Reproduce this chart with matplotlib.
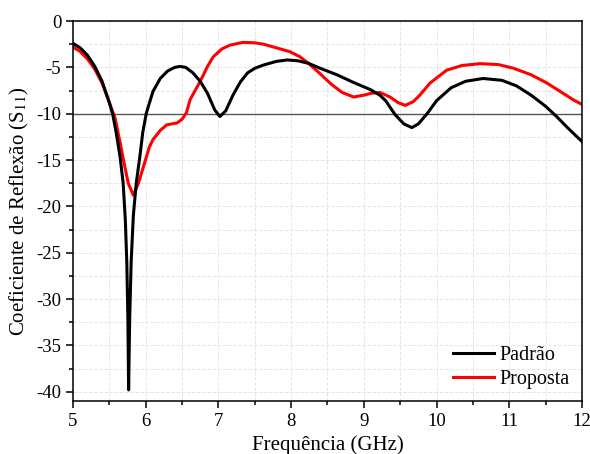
import matplotlib
matplotlib.use("Agg")
import matplotlib.pyplot as plt
from matplotlib.ticker import MultipleLocator

# Padrão (black) curve
freq_padrao = [5.0, 5.1, 5.2, 5.3, 5.4, 5.5, 5.55, 5.6, 5.65, 5.69, 5.72, 5.74,
               5.755, 5.765, 5.78, 5.8, 5.83, 5.87, 5.92, 5.96, 6.01, 6.1, 6.2,
               6.3, 6.4, 6.47, 6.55, 6.65, 6.75, 6.85, 6.95, 7.02, 7.1, 7.2, 7.3,
               7.4, 7.5, 7.62, 7.8, 7.95, 8.1, 8.24, 8.4, 8.63, 8.85, 9.09, 9.22,
               9.3, 9.43, 9.55, 9.66, 9.75, 9.87, 10.0, 10.2, 10.4, 10.64, 10.9,
               11.1, 11.3, 11.5, 11.65, 11.8, 12.0]
s11_padrao = [-2.4, -2.9, -3.7, -4.9, -6.5, -8.8, -10.2, -12.3, -14.8, -17.5, -21.5, -26.0,
              -32.0, -39.8, -32.0, -26.0, -21.0, -17.5, -14.6, -12.0, -9.9, -7.6, -6.2,
              -5.4, -5.0, -4.9, -5.0, -5.6, -6.5, -7.8, -9.6, -10.3, -9.7, -8.0, -6.6,
              -5.6, -5.1, -4.75, -4.35, -4.2, -4.3, -4.57, -5.1, -5.8, -6.6, -7.4, -8.0,
              -8.6, -10.1, -11.1, -11.5, -11.1, -10.0, -8.6, -7.2, -6.5, -6.2, -6.4,
              -7.0, -8.0, -9.2, -10.3, -11.5, -13.0]

# Proposta (red) curve
freq_proposta = [5.0, 5.1, 5.2, 5.3, 5.4, 5.5, 5.58, 5.65, 5.7, 5.76, 5.83, 5.9,
                 5.97, 6.05, 6.1, 6.2, 6.29, 6.43, 6.5, 6.56, 6.61, 6.68, 6.75, 6.85,
                 6.93, 7.05, 7.16, 7.34, 7.5, 7.62, 7.8, 7.98, 8.12, 8.24, 8.4, 8.55,
                 8.7, 8.86, 9.0, 9.1, 9.22, 9.36, 9.47, 9.57, 9.68, 9.77, 9.91, 10.14,
                 10.35, 10.6, 10.85, 11.06, 11.3, 11.52, 11.7, 11.88, 12.0]
s11_proposta = [-2.8, -3.3, -4.1, -5.2, -6.7, -8.8, -10.5, -13.2, -15.2, -17.5, -18.8, -17.5,
                -15.7, -13.6, -12.8, -11.8, -11.2, -11.0, -10.6, -9.9, -8.5, -7.5, -6.5, -4.9,
                -3.85, -3.0, -2.6, -2.3, -2.35, -2.5, -2.9, -3.3, -3.85, -4.57, -5.7, -6.8,
                -7.7, -8.2, -8.0, -7.8, -7.7, -8.2, -8.8, -9.1, -8.7, -8.0, -6.7, -5.3,
                -4.8, -4.6, -4.7, -5.1, -5.8, -6.7, -7.6, -8.5, -9.0]

threshold = -10

plt.rcParams["font.family"] = ["Liberation Serif", "DejaVu Serif"]
plt.rcParams["mathtext.fontset"] = "stix"
plt.rcParams["axes.unicode_minus"] = False

fig = plt.figure(figsize=(5.9, 4.54), dpi=100)
ax = fig.add_axes([0.1237, 0.1167, 0.8627, 0.837])

ax.axhline(threshold, color="#555555", lw=1.0, zorder=1)
ax.plot(freq_padrao, s11_padrao, color="black", lw=2.2, label="Padrão",
        solid_joinstyle="round", zorder=3)
ax.plot(freq_proposta, s11_proposta, color="#ff0000", lw=2.2, label="Proposta",
        solid_joinstyle="round", zorder=2)

ax.set_xlim(5, 12)
ax.set_ylim(-41, 0)
ax.xaxis.set_major_locator(MultipleLocator(1))
ax.xaxis.set_minor_locator(MultipleLocator(0.5))
ax.yaxis.set_major_locator(MultipleLocator(5))
ax.yaxis.set_minor_locator(MultipleLocator(2.5))
ax.grid(True, which="both", color="#e6e6e6", ls="--", lw=0.7, zorder=0)
ax.set_axisbelow(True)

ax.tick_params(which="both", direction="out", labelsize=13.5, width=1.1)
ax.tick_params(which="major", length=5)
ax.tick_params(which="minor", length=3)
for side in ax.spines.values():
    side.set_linewidth(1.1)

ax.set_xlabel("Frequência (GHz)", fontsize=15, labelpad=4)
ax.set_ylabel(r"Coeficiente de Reflexão (S$_{11}$)", fontsize=15, labelpad=4)

ax.legend(loc="lower right", frameon=False, fontsize=14.5, handlelength=2.0,
          handletextpad=0.3, borderaxespad=0.2, labelspacing=0.25)

fig.savefig("out.png", dpi=100)
